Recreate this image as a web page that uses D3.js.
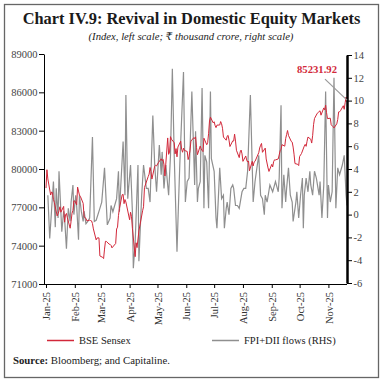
<!DOCTYPE html>
<html><head><meta charset="utf-8">
<script src="https://cdn.jsdelivr.net/npm/d3@7"></script>
<style>html,body{margin:0;padding:0;background:#fff;}svg{display:block;}</style>
</head><body>
<svg id="c" width="383" height="384"></svg>
<script>
const sensexDates = [
"2025-01-01","2025-01-02","2025-01-03","2025-01-06","2025-01-07","2025-01-08","2025-01-09","2025-01-10","2025-01-13","2025-01-14","2025-01-15","2025-01-16","2025-01-17","2025-01-20","2025-01-21","2025-01-22","2025-01-23","2025-01-24","2025-01-27","2025-01-28","2025-01-29","2025-01-30","2025-01-31",
"2025-02-01","2025-02-03","2025-02-04","2025-02-05","2025-02-06","2025-02-07","2025-02-10","2025-02-11","2025-02-12","2025-02-13","2025-02-14","2025-02-17","2025-02-18","2025-02-19","2025-02-20","2025-02-21","2025-02-24","2025-02-25","2025-02-27","2025-02-28",
"2025-03-03","2025-03-04","2025-03-05","2025-03-06","2025-03-07","2025-03-10","2025-03-11","2025-03-12","2025-03-13","2025-03-17","2025-03-18","2025-03-19","2025-03-20","2025-03-21","2025-03-24","2025-03-25","2025-03-26","2025-03-27","2025-03-28",
"2025-04-01","2025-04-02","2025-04-03","2025-04-04","2025-04-07","2025-04-08","2025-04-09","2025-04-11","2025-04-15","2025-04-16","2025-04-17","2025-04-21","2025-04-22","2025-04-23","2025-04-24","2025-04-25","2025-04-28","2025-04-29","2025-04-30",
"2025-05-02","2025-05-05","2025-05-06","2025-05-07","2025-05-08","2025-05-09","2025-05-12","2025-05-13","2025-05-14","2025-05-15","2025-05-16","2025-05-19","2025-05-20","2025-05-21","2025-05-22","2025-05-23","2025-05-26","2025-05-27","2025-05-28","2025-05-29","2025-05-30",
"2025-06-02","2025-06-03","2025-06-04","2025-06-05","2025-06-06","2025-06-09","2025-06-10","2025-06-11","2025-06-12","2025-06-13","2025-06-16","2025-06-17","2025-06-18","2025-06-19","2025-06-20","2025-06-23","2025-06-24","2025-06-25","2025-06-26","2025-06-27","2025-06-30",
"2025-07-01","2025-07-02","2025-07-03","2025-07-04","2025-07-07","2025-07-08","2025-07-09","2025-07-10","2025-07-11","2025-07-14","2025-07-15","2025-07-16","2025-07-17","2025-07-18","2025-07-21","2025-07-22","2025-07-23","2025-07-24","2025-07-25","2025-07-28","2025-07-29","2025-07-30","2025-07-31",
"2025-08-01","2025-08-04","2025-08-05","2025-08-06","2025-08-07","2025-08-08","2025-08-11","2025-08-12","2025-08-13","2025-08-14","2025-08-18","2025-08-19","2025-08-20","2025-08-21","2025-08-22","2025-08-25","2025-08-26","2025-08-28","2025-08-29",
"2025-09-01","2025-09-02","2025-09-03","2025-09-04","2025-09-05","2025-09-08","2025-09-09","2025-09-10","2025-09-11","2025-09-12","2025-09-15","2025-09-16","2025-09-17","2025-09-18","2025-09-19","2025-09-22","2025-09-23","2025-09-24","2025-09-25","2025-09-26","2025-09-29","2025-09-30",
"2025-10-01","2025-10-03","2025-10-06","2025-10-07","2025-10-08","2025-10-09","2025-10-10","2025-10-13","2025-10-14","2025-10-15","2025-10-16","2025-10-17","2025-10-20","2025-10-21","2025-10-23","2025-10-24","2025-10-27","2025-10-28","2025-10-29","2025-10-30","2025-10-31",
"2025-11-03","2025-11-04","2025-11-06","2025-11-07","2025-11-10","2025-11-11","2025-11-12","2025-11-13","2025-11-14","2025-11-17","2025-11-18","2025-11-19","2025-11-20","2025-11-21"];
const sensexValues = [
78507,79943,79223,77964,78199,78148,77620,77379,76330,76500,76724,77043,76619,77073,75839,76405,76520,76190,75366,75901,76532,76760,77501,
77506,77187,78584,78271,77954,77860,77312,76294,76171,76139,75939,75997,75967,75939,75736,75311,74454,74602,74612,73198,
73086,72990,73730,74340,74333,74115,74102,74030,73829,74170,75302,75449,76349,76906,77984,78017,77289,77607,77415,
76025,76617,76295,75365,73138,74227,73847,75157,76735,77044,78553,79408,79596,80117,79801,79213,80218,80288,80242,
80502,80797,80641,80747,80335,79454,82430,81148,81331,82531,82331,82059,81186,81597,80952,81721,82176,81552,81312,81633,81451,
81374,80738,80998,81442,82189,82445,82392,82515,81692,81119,81796,81584,81445,81362,82409,81897,82055,82756,83755,84059,83607,
83697,83410,83240,83433,83443,83713,83537,83190,82500,82253,82571,82634,82259,81758,82200,82187,82727,82185,81463,80891,81338,81482,81186,
80600,81019,80710,80544,80624,79858,80604,80236,80540,80598,81274,81644,81858,82001,81307,81636,80787,80081,79810,
80364,80158,80568,80718,80711,80787,81101,81425,81549,81905,81786,82381,82694,83013,82626,82160,82102,81716,81160,80426,80365,80268,
80983,81207,81790,81927,81774,82172,82501,82327,82030,82605,83468,83952,84363,84426,84556,84212,84779,84629,84997,84404,83939,
83979,83459,83311,83216,83535,83871,84467,84479,84563,84951,84673,85186,85632,85231.92];

const flowDates = [
"2025-01-03","2025-01-05","2025-01-09","2025-01-11","2025-01-12","2025-01-14","2025-01-15","2025-01-18","2025-01-20","2025-01-21","2025-01-23","2025-01-25","2025-01-27","2025-01-28","2025-01-30","2025-01-31",
"2025-02-02","2025-02-03","2025-02-05","2025-02-06","2025-02-08","2025-02-10","2025-02-11","2025-02-13","2025-02-15","2025-02-17","2025-02-20","2025-02-22","2025-02-24","2025-02-28",
"2025-03-02","2025-03-05","2025-03-08","2025-03-11","2025-03-12","2025-03-14","2025-03-18","2025-03-20","2025-03-21","2025-03-25","2025-03-27","2025-03-28","2025-03-30",
"2025-04-02","2025-04-04","2025-04-05","2025-04-07","2025-04-10","2025-04-11","2025-04-14","2025-04-16","2025-04-19","2025-04-21","2025-04-23","2025-04-26","2025-04-28","2025-04-30",
"2025-05-03","2025-05-05","2025-05-06","2025-05-08","2025-05-10","2025-05-13","2025-05-15","2025-05-17","2025-05-19","2025-05-22","2025-05-23","2025-05-25","2025-05-29","2025-05-31",
"2025-06-02","2025-06-04","2025-06-07","2025-06-10","2025-06-11","2025-06-13","2025-06-14","2025-06-16","2025-06-18","2025-06-20","2025-06-21","2025-06-23","2025-06-25","2025-06-27","2025-06-28",
"2025-07-01","2025-07-03","2025-07-04","2025-07-06","2025-07-07","2025-07-09","2025-07-11","2025-07-12","2025-07-14","2025-07-15","2025-07-17","2025-07-19","2025-07-21","2025-07-22","2025-07-24","2025-07-26","2025-07-28","2025-07-31",
"2025-08-02","2025-08-04","2025-08-06","2025-08-09","2025-08-12","2025-08-14","2025-08-16","2025-08-18","2025-08-20","2025-08-22","2025-08-24","2025-08-25","2025-08-27","2025-08-30",
"2025-09-02","2025-09-03","2025-09-05","2025-09-08","2025-09-09","2025-09-11","2025-09-12","2025-09-14","2025-09-16","2025-09-17","2025-09-19","2025-09-21","2025-09-23","2025-09-24","2025-09-27","2025-09-28","2025-09-30",
"2025-10-02","2025-10-04","2025-10-05","2025-10-06","2025-10-08","2025-10-10","2025-10-12","2025-10-13","2025-10-15","2025-10-17","2025-10-19","2025-10-22","2025-10-23","2025-10-25","2025-10-27","2025-10-29","2025-10-31",
"2025-11-01","2025-11-03","2025-11-05","2025-11-07","2025-11-09","2025-11-11","2025-11-13","2025-11-16","2025-11-18","2025-11-20","2025-11-21"];
const flowValues = [
1.7,-2.1,2.9,-1.1,2.3,-0.3,3.8,-1.5,0.3,-0.3,-3.0,0.55,-0.6,1.1,2.6,0,
1.7,0.8,-2.2,1.7,0.3,-0.6,0.3,-0.8,-0.6,-0.3,6.8,-0.6,-0.5,0.55,
1.1,4.1,-0.9,-0.3,0.8,0.25,1.4,3.8,0.25,6.4,1.7,10.5,1.4,
4.35,0.25,-4.7,-2.4,4.35,-4.1,1.7,4.35,2.3,2.3,1.1,8.7,4.35,2.0,
6.1,3.5,5.5,2.3,4.35,1.7,5.2,12.8,5.2,-3.25,-0.6,4.35,12.5,1.1,
2.9,3.2,10.8,2.6,7.3,1.1,2.3,2.9,11.1,0.55,5.2,4.6,0.55,10.8,4.9,
3.8,-0.3,-1.2,2.3,4.1,1.4,1.7,-1.2,0.55,1.1,0,2.3,2.6,2.3,0.8,0.8,0.55,2.0,
2.3,2.3,3.8,10.5,1.1,2.9,4.1,5.2,1.7,1.4,0,1.7,1.1,2.6,
2.0,2.3,2.9,2.0,3.2,9.6,0.55,3.5,1.1,2.3,4.1,1.7,1.1,-0.6,1.1,2.0,-0.3,
1.7,3.2,-1.2,1.7,3.2,2.0,3.8,2.6,1.7,3.8,3.2,1.7,2.9,-0.3,2.6,10.8,-0.3,
2.6,1.1,2.0,12.0,0.55,4.1,3.5,4.35,5.2,1.7,0.8];

const leftTicks = [71000,74000,77000,80000,83000,86000,89000];
const rightTicks = [-6,-4,-2,0,2,4,6,8,10,12,14];
const seriesNames = ["BSE Sensex","FPI+DII flows (RHS)"];
const titleText = "Chart IV.9: Revival in Domestic Equity Markets";
const subtitleText = "(Index, left scale; \u20B9 thousand crore, right scale)";
const sourceLabel = "Source:";
const sourceText = " Bloomberg; and Capitaline.";

const RED = "#d2283a", GREY = "#8f8f8f";
const FONT = "'Liberation Serif', 'DejaVu Serif', serif";
const parse = d3.timeParse("%Y-%m-%d");
const sensex = sensexDates.map((d,i)=>({date:parse(d), v:sensexValues[i]}));
const flows = flowDates.map((d,i)=>({date:parse(d), v:flowValues[i]}));

const svg = d3.select("#c");
const plotL = 44, plotR = 347, plotT = 54, plotB = 284;

svg.append("rect").attr("x",4.5).attr("y",4.5).attr("width",374).attr("height",373)
  .attr("fill","none").attr("stroke","#666").attr("stroke-width",1.3);

function fitText(sel, target){
  let fs = +sel.attr("font-size");
  const w = sel.node().getComputedTextLength();
  sel.attr("font-size", (fs*target/w).toFixed(2));
}
const title = svg.append("text").attr("x",191.5).attr("y",24).attr("text-anchor","middle")
  .attr("font-family",FONT).attr("font-weight","bold").attr("font-size",15).attr("fill","#1a1a1a").text(titleText);
fitText(title, 338);
const sub = svg.append("text").attr("x",191).attr("y",40).attr("text-anchor","middle")
  .attr("font-family",FONT).attr("font-style","italic").attr("font-size",10).attr("fill","#222").text(subtitleText);
fitText(sub, 205);

const x = d3.scaleTime().domain([parse("2025-01-01"), parse("2025-11-21")]).range([46, plotR]);
const yL = d3.scaleLinear().domain([71000, 89000]).range([plotB, plotT]);
const yR = d3.scaleLinear().domain([-6, 14]).range([283, 55]);

const flowLine = d3.line().x(d=>x(d.date)).y(d=>yR(d.v));
svg.append("path").datum(flows).attr("d",flowLine).attr("fill","none")
  .attr("stroke",GREY).attr("stroke-width",1.2);
const sLine = d3.line().x(d=>x(d.date)).y(d=>yL(d.v));
svg.append("path").datum(sensex).attr("d",sLine).attr("fill","none")
  .attr("stroke",RED).attr("stroke-width",1);

const gL = svg.append("g").attr("transform",`translate(${plotL},0)`)
  .call(d3.axisLeft(yL).tickValues(leftTicks).tickSize(5).tickSizeOuter(0).tickFormat(d3.format("d")));
gL.select(".domain").attr("stroke","#000").attr("stroke-width",1);
gL.selectAll(".tick line").attr("stroke","#000");
gL.selectAll(".tick text").attr("font-family",FONT).attr("font-size",10.5).attr("fill","#444").attr("x",-6.5);

const gR = svg.append("g").attr("transform",`translate(${plotR},0)`)
  .call(d3.axisRight(yR).tickValues(rightTicks).tickSize(5).tickSizeOuter(0).tickFormat(d3.format("d")));
gR.select(".domain").attr("stroke","#000").attr("stroke-width",2.5);
gR.selectAll(".tick line").attr("stroke","#000");
gR.selectAll(".tick text").attr("font-family",FONT).attr("font-size",10.5).attr("fill","#444").attr("x",6.5)
  .text(d=> d<0 ? "-"+Math.abs(d) : d);

const gB = svg.append("g").attr("transform",`translate(0,${plotB})`)
  .call(d3.axisBottom(x).ticks(d3.timeMonth.every(1)).tickSize(4).tickSizeOuter(0).tickFormat(d3.timeFormat("%b-%y")));
gB.select(".domain").attr("d",`M${plotL},0.5H${plotR}`).attr("stroke","#000");
gB.selectAll(".tick line").attr("stroke","#000");
gB.selectAll(".tick text").attr("font-family",FONT).attr("font-size",10.5).attr("fill","#333")
  .attr("transform","rotate(-90)").attr("text-anchor","end").attr("x",-8).attr("y",0).attr("dy","0.35em");

const last = sensex[sensex.length-1];
const lx = x(last.date), ly = yL(last.v);
svg.append("line").attr("x1",lx-22).attr("y1",ly-23).attr("x2",lx).attr("y2",ly-2)
  .attr("stroke","#9a9a9a").attr("stroke-width",1.2);
const ann = svg.append("text").attr("x",lx-10).attr("y",ly-29).attr("text-anchor","end")
  .attr("font-family",FONT).attr("font-weight","bold").attr("font-size",10.5).attr("fill",RED)
  .text(d3.format(".2f")(last.v));
fitText(ann, 40);

const leg = [{name:seriesNames[0], c:RED, x:47},{name:seriesNames[1], c:GREY, x:212}];
leg.forEach(l=>{
  svg.append("line").attr("x1",l.x).attr("x2",l.x+27).attr("y1",340.5).attr("y2",340.5)
    .attr("stroke",l.c).attr("stroke-width",1.5);
  svg.append("text").attr("x",l.x+32).attr("y",344).attr("font-family",FONT).attr("font-size",10.5)
    .attr("fill","#222").text(l.name);
});

const src = svg.append("text").attr("x",13).attr("y",364).attr("font-family",FONT).attr("font-size",10).attr("fill","#222");
src.append("tspan").attr("font-weight","bold").text(sourceLabel);
src.append("tspan").text(sourceText);
fitText(src, 157);
</script>
</body></html>
